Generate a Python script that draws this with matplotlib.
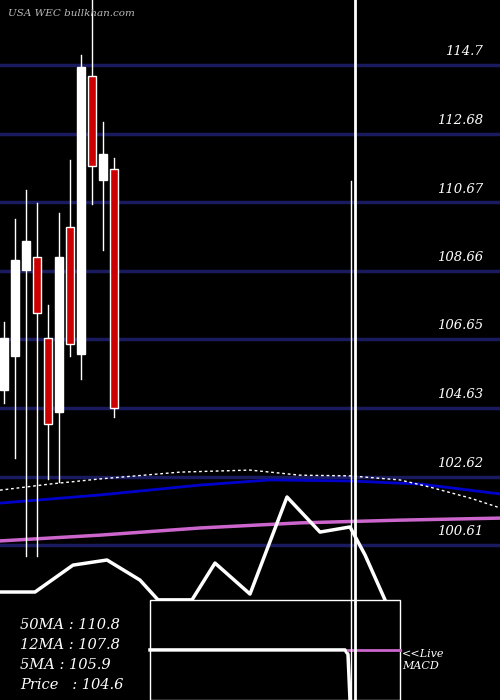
import matplotlib
matplotlib.use('Agg')
import matplotlib.pyplot as plt
from matplotlib.patches import Rectangle

# candles: x position, open, close, high, low
cx    = [4, 15, 26, 37, 48, 59, 70, 81, 92, 103, 114]
opens = [105.15, 106.15, 108.68, 109.06, 106.68, 104.51, 109.96, 106.21, 114.39, 111.34, 111.65]
close = [106.69, 108.99, 109.53, 107.43, 104.16, 109.06, 106.50, 114.63, 111.74, 112.09, 104.64]
highs = [107.15, 110.19, 111.03, 110.65, 107.66, 110.37, 111.92, 114.99, 116.6, 113.02, 111.98]
lows  = [104.77, 103.16, 100.3, 100.3, 102.56, 102.46, 106.15, 105.49, 110.63, 109.26, 104.36]

grid_levels = [114.7, 112.68, 110.67, 108.66, 106.65, 104.63, 102.62, 100.61]

blue_x = [0, 100, 200, 270, 350, 420, 500]
blue_y = [101.84, 102.08, 102.37, 102.52, 102.49, 102.40, 102.11]
dot_x = [0, 50, 100, 180, 250, 300, 350, 400, 430, 470, 500]
dot_y = [102.22, 102.40, 102.55, 102.75, 102.81, 102.66, 102.64, 102.52, 102.31, 101.99, 101.70]
mag_x = [0, 100, 200, 300, 400, 500]
mag_y = [100.73, 100.90, 101.11, 101.26, 101.34, 101.40]

macd_x = [0, 35, 73, 107, 140, 158, 192, 215, 250, 287, 320, 350, 365, 385]
macd_y = [99.23, 99.23, 100.02, 100.17, 99.58, 99.0, 99.0, 100.08, 99.17, 102.02, 100.99, 101.14, 100.32, 99.0]

labels = ['50MA : 110.8', '12MA : 107.8', '5MA : 105.9', 'Price   : 104.6']

fig = plt.figure(figsize=(5, 7), dpi=100, facecolor='black')
ax = fig.add_axes([0, 0, 1, 1])
ax.set_facecolor('black')
ax.set_xlim(0, 500)
ax.set_ylim(96.06, 116.61)
ax.axis('off')

for g in grid_levels:
    ax.axhline(g, color='#1a1a5e', lw=2.5, zorder=1)
    ax.text(483, g + 0.2, str(g), color='white', fontsize=9.5, style='italic',
            family='DejaVu Serif', ha='right', va='bottom', zorder=5)

ax.plot(mag_x, mag_y, color='#cc66cc', lw=2.5, zorder=2)
ax.plot(blue_x, blue_y, color='#0000cc', lw=2, zorder=2)
ax.plot(dot_x, dot_y, color='white', lw=1, ls=(0, (2, 2)), zorder=2)

for x, o, c, h, l in zip(cx, opens, close, highs, lows):
    ax.plot([x, x], [l, h], color='white', lw=1, zorder=3)
    col = 'white' if c >= o else '#cc0000'
    ax.add_patch(Rectangle((x - 4, min(o, c)), 8, abs(c - o), facecolor=col,
                           edgecolor='white', lw=1, zorder=4))

ax.plot(macd_x, macd_y, color='white', lw=2.5, zorder=3)

ax.add_patch(Rectangle((150, 96.06), 250, 2.94, facecolor='black',
                       edgecolor='white', lw=1, zorder=6))
ax.plot([150, 345, 348, 350], [97.53, 97.53, 97.4, 96.06], color='white', lw=2.5, zorder=7)
ax.plot([348, 400], [97.53, 97.53], color='#cc66cc', lw=2, zorder=7)

ax.axvline(355, color='white', lw=2, zorder=8)
ax.plot([351, 351], [96.06, 111.3], color='white', lw=1, zorder=8)

ax.text(402, 96.9, '<<Live\nMACD', color='white', fontsize=8, style='italic',
        family='DejaVu Serif', va='bottom', linespacing=1.3, zorder=9)

for i, t in enumerate(labels):
    ax.text(20, 98.26 - i * 0.59, t, color='white', fontsize=10.5, style='italic',
            family='DejaVu Serif', va='center', zorder=9)

ax.text(8, 116.2, 'USA WEC bullkhan.com', color='#bbbbbb', fontsize=7.5, style='italic',
        family='DejaVu Serif', va='center', zorder=9)

fig.savefig('out.png', dpi=100, facecolor='black')
